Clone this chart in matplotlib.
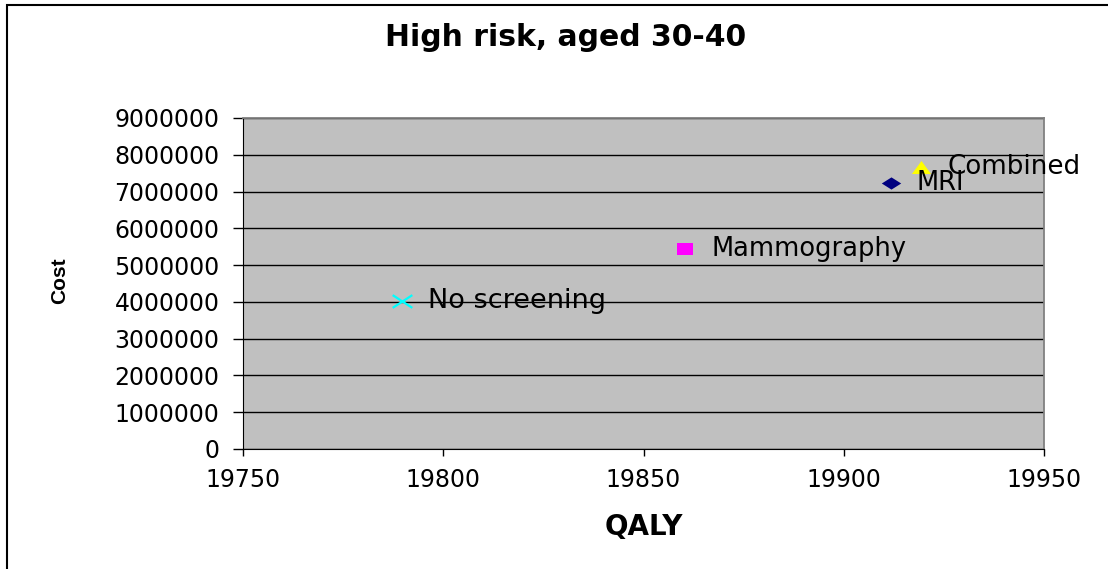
import matplotlib.pyplot as plt
import matplotlib.patches as mpatches
from matplotlib.path import Path

plt.rcParams['font.family'] = ['DejaVu Sans']

# strategies: QALY vs cost
strategies = ["No screening", "Mammography", "MRI", "Combined"]
qaly = [19789.6, 19860.4, 19911.7, 19919.2]
cost = [4030000, 5430000, 7220000, 7680000]
colors = ["#00FFFF", "#FF00FF", "#000080", "#FFFF00"]
label_sizes = [19.5, 18.5, 18.5, 18.8]

xticks = [19750, 19800, 19850, 19900, 19950]
yticks = list(range(0, 9000001, 1000000))

# slightly wide marker shapes (the original is horizontally stretched)
m_cross = Path([(-1, -0.65), (1, 0.65), (-1, 0.65), (1, -0.65)],
               [Path.MOVETO, Path.LINETO, Path.MOVETO, Path.LINETO])
m_square = Path([(-1, -0.79), (1, -0.79), (1, 0.79), (-1, 0.79), (-1, -0.79)],
                closed=True)
m_diamond = Path([(-1, 0), (0, 0.63), (1, 0), (0, -0.63), (-1, 0)], closed=True)
m_tri = Path([(-1, -0.68), (1, -0.68), (0, 0.68), (-1, -0.68)], closed=True)
markers = [m_cross, m_square, m_diamond, m_tri]
sizes = [200, 130, 195, 190]

fig = plt.figure(figsize=(11.08, 5.69), dpi=100)
fig.patches.append(mpatches.Rectangle((7 / 1108, -0.01), 1.1, 1 - 5 / 569 + 0.01,
                                      transform=fig.transFigure, fill=False,
                                      edgecolor="black", lw=1.5))
ax = fig.add_axes([243 / 1108, 1 - 449 / 569, (1044 - 243) / 1108, (449 - 118) / 569])
ax.set_facecolor("#C0C0C0")

for s, x, y, m, c, sz, fs in zip(strategies, qaly, cost, markers, colors, sizes,
                                 label_sizes):
    if m is m_cross:
        ax.scatter(x, y, marker=m, s=sz, color=c, linewidths=1.6, zorder=3)
    else:
        ax.scatter(x, y, marker=m, s=sz, color=c, linewidths=0, zorder=3)
    ax.annotate(s, (x, y), xytext=(19, 0), textcoords="offset points",
                ha="left", va="center", fontsize=fs, zorder=4,
                annotation_clip=False)

ax.set_xlim(19750, 19950)
ax.set_ylim(0, 9000000)
ax.set_xticks(xticks)
ax.set_yticks(yticks)
ax.set_xticklabels([str(t) for t in xticks], fontsize=17)
ax.set_yticklabels([str(t) for t in yticks], fontsize=17)
ax.tick_params(axis="x", direction="out", length=5, width=1, pad=9)
ax.tick_params(axis="y", direction="out", length=7, width=1, pad=10)
ax.yaxis.grid(True, color="black", lw=1)
ax.set_axisbelow(True)
for sp in ["top", "right"]:
    ax.spines[sp].set_color("#808080")
    ax.spines[sp].set_linewidth(1.3)
for sp in ["left", "bottom"]:
    ax.spines[sp].set_color("black")

ax.set_xlabel("QALY", fontsize=20, fontweight="bold", labelpad=15)
fig.text(60 / 1108, 1 - 281 / 569, "Cost", rotation=90, ha="center", va="center",
         fontsize=15, fontweight="bold", family="Liberation Sans")
fig.text(566 / 1108, 1 - 38 / 569, "High risk, aged 30-40", ha="center", va="center",
         fontsize=21.5, fontweight="bold")

fig.savefig("out.png", dpi=100)
